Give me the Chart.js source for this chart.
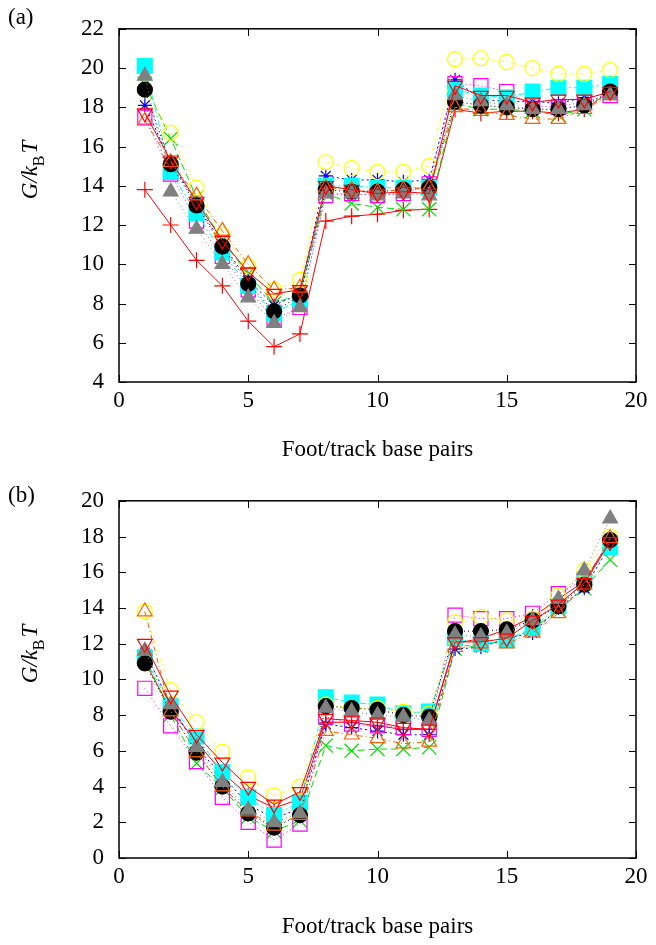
<!DOCTYPE html>
<html>
<head>
<meta charset="utf-8">
<script src="https://cdn.jsdelivr.net/npm/chart.js@4"></script>
<style>
  body { margin: 0; background: #fff; }
  canvas { position: absolute; left: 0; }
</style>
</head>
<body>
<canvas id="chartA" width="656" height="472" style="top:0"></canvas>
<canvas id="chartB" width="656" height="473" style="top:472px"></canvas>
<script>
const footPairs = [1, 2, 3, 4, 5, 6, 7, 8, 9, 10, 11, 12, 13, 14, 15, 16, 17, 18, 19];

// panel (a)
const aPlus      = [13.8, 12.0, 10.2, 8.9, 7.1, 5.8, 6.45, 12.2, 12.45, 12.55, 12.75, 12.8, 17.9, 17.7, 17.8, 17.8, 17.7, 17.9, 18.8];
const aCross     = [19.2, 16.4, 13.4, 11.2, 9.5, 8.0, 8.5, 13.6, 13.1, 12.9, 12.8, 12.8, 18.2, 17.9, 17.9, 17.8, 17.6, 17.9, 18.8];
const aStar      = [18.1, 15.2, 13.1, 11.0, 9.2, 7.9, 8.5, 14.5, 14.3, 14.3, 14.2, 14.3, 19.4, 18.4, 18.3, 18.3, 18.2, 18.5, 18.7];
const aOpenSq    = [17.5, 14.6, 12.2, 10.4, 8.7, 7.2, 7.8, 13.5, 13.6, 13.5, 13.6, 14.1, 19.2, 19.1, 18.8, 18.1, 18.0, 18.3, 18.6];
const aFillSq    = [20.1, 14.7, 12.6, 10.6, 8.9, 7.5, 8.2, 14.0, 14.0, 13.9, 13.9, 13.9, 18.9, 18.6, 18.5, 18.8, 19.0, 19.0, 19.2];
const aOpenCirc  = [18.9, 16.7, 13.9, 11.5, 9.9, 8.7, 9.2, 15.2, 14.9, 14.7, 14.7, 15.0, 20.45, 20.5, 20.3, 20.0, 19.7, 19.7, 19.9];
const aFillCirc  = [18.9, 15.1, 13.0, 10.9, 9.0, 7.6, 8.4, 13.8, 13.7, 13.7, 13.8, 13.9, 18.3, 18.1, 18.0, 17.9, 17.9, 18.1, 18.8];
const aOpenTri   = [17.3, 15.2, 13.5, 11.7, 10.0, 8.7, 8.8, 13.9, 13.8, 13.7, 13.8, 13.9, 18.0, 17.8, 17.6, 17.4, 17.4, 17.9, 18.6];
const aFillTri   = [19.6, 13.7, 11.8, 10.0, 8.3, 7.0, 7.8, 13.6, 13.6, 13.5, 13.6, 13.5, 18.6, 18.3, 18.1, 17.9, 17.9, 18.1, 18.6];
const aInvTri    = [17.7, 15.3, 13.2, 11.2, 9.6, 8.5, 8.7, 14.0, 13.8, 13.6, 13.7, 13.6, 19.1, 18.6, 18.6, 18.25, 18.4, 18.4, 18.8];

// panel (b)
const bPlus      = [11.0, 8.3, 6.5, 4.8, 3.5, 2.8, 3.3, 7.6, 7.6, 7.4, 7.2, 7.2, 12.0, 12.3, 12.8, 13.5, 14.5, 15.5, 17.8];
const bCross     = [11.3, 8.0, 5.3, 3.9, 2.3, 1.5, 2.1, 6.3, 6.0, 6.1, 6.1, 6.2, 11.7, 11.9, 12.2, 12.8, 13.9, 15.1, 16.7];
const bStar      = [11.5, 8.6, 6.2, 4.6, 3.0, 2.2, 2.8, 7.5, 7.3, 7.1, 6.9, 6.9, 11.7, 11.8, 12.3, 12.6, 14.0, 15.1, 17.5];
const bOpenSq    = [9.5, 7.4, 5.4, 3.4, 2.0, 1.0, 1.9, 7.9, 7.5, 7.4, 7.3, 7.2, 13.6, 13.4, 13.4, 13.7, 14.8, 15.6, 17.6];
const bFillSq    = [11.2, 8.5, 6.8, 4.8, 3.4, 2.4, 3.1, 9.0, 8.7, 8.6, 8.1, 8.2, 12.3, 12.0, 12.2, 12.9, 14.1, 15.5, 17.4];
const bOpenCirc  = [13.8, 9.4, 7.6, 5.95, 4.5, 3.5, 4.0, 8.6, 8.4, 8.4, 8.2, 8.1, 13.2, 13.5, 13.3, 13.4, 14.7, 16.1, 18.0];
const bFillCirc  = [10.9, 8.2, 5.9, 4.0, 2.5, 1.7, 2.4, 8.5, 8.4, 8.3, 8.0, 7.9, 12.7, 12.7, 12.8, 13.3, 14.1, 15.3, 17.8];
const bOpenTri   = [13.8, 8.2, 5.9, 4.0, 2.6, 1.8, 2.4, 7.1, 6.9, 6.7, 6.4, 6.5, 11.8, 12.0, 12.0, 12.6, 13.7, 15.3, 17.9];
const bFillTri   = [11.6, 8.6, 6.2, 4.25, 2.7, 2.0, 2.5, 8.4, 8.2, 8.0, 7.9, 7.7, 12.5, 12.4, 12.6, 13.3, 14.5, 16.1, 19.0];
const bInvTri    = [12.0, 9.1, 6.9, 5.35, 4.0, 3.0, 3.7, 7.8, 7.7, 7.6, 7.3, 7.2, 12.1, 12.1, 12.3, 13.3, 14.2, 15.4, 17.7];

const xTitle = "Foot/track base pairs";
const serif = "'Liberation Serif', 'DejaVu Serif', serif";

// gnuplot-like point types 1..10
const seriesStyles = [
  { color: "#ff0000", point: "cross", fill: false, radius: 8, dash: [] },
  { color: "#00dd00", point: "crossRot", fill: false, radius: 10, dash: [7, 4] },
  { color: "#0000ff", point: "star", fill: false, radius: 7, dash: [2, 3] },
  { color: "#ff00ff", point: "rect", fill: false, radius: 10, dash: [1, 3] },
  { color: "#00ffff", point: "rect", fill: true, radius: 10.5, dash: [6, 3, 2, 3] },
  { color: "#ffff00", point: "circle", fill: false, radius: 7.5, dash: [3, 3, 1, 3] },
  { color: "#000000", point: "circle", fill: true, radius: 7.5, dash: [1, 3] },
  { color: "#ff6000", point: "triangle", fill: false, radius: 8.5, dash: [5, 3, 1, 3] },
  { color: "#808080", point: "triangle", fill: true, radius: 8.5, dash: [1, 3] },
  { color: "#ff0000", point: "triangle", fill: false, radius: 8.5, dash: [], rotation: 180 },
];

function buildDatasets(seriesList) {
  return seriesList.map((values, i) => {
    const s = seriesStyles[i];
    return {
      data: values.map((v, j) => ({ x: footPairs[j], y: v })),
      borderColor: s.color,
      borderWidth: 1,
      borderDash: s.dash,
      pointStyle: s.point,
      pointRadius: s.radius,
      pointRotation: s.rotation || 0,
      pointBorderColor: s.color,
      pointBackgroundColor: s.fill ? s.color : "rgba(0,0,0,0)",
      pointBorderWidth: 1.2,
      tension: 0,
      order: seriesList.length - i,
    };
  });
}

// frame + inward ticks on all four sides, like gnuplot
const frameTicks = {
  id: "frameTicks",
  beforeDatasetsDraw(chart) {
    const { ctx, chartArea: a, scales } = chart;
    const len = 7;
    ctx.save();
    ctx.strokeStyle = "#000";
    ctx.lineWidth = 1;
    ctx.beginPath();
    scales.x.ticks.forEach((t) => {
      const px = Math.round(scales.x.getPixelForValue(t.value)) + 0.5;
      ctx.moveTo(px, a.bottom); ctx.lineTo(px, a.bottom - len);
      ctx.moveTo(px, a.top); ctx.lineTo(px, a.top + len);
    });
    scales.y.ticks.forEach((t) => {
      const py = Math.round(scales.y.getPixelForValue(t.value)) + 0.5;
      ctx.moveTo(a.left, py); ctx.lineTo(a.left + len, py);
      ctx.moveTo(a.right, py); ctx.lineTo(a.right - len, py);
    });
    ctx.stroke();
    ctx.lineWidth = 1.5;
    ctx.strokeRect(a.left, a.top, a.right - a.left, a.bottom - a.top);
    ctx.restore();
  },
};

// panel letter and the G/k_B T label
const panelText = {
  id: "panelText",
  afterDraw(chart, args, opts) {
    const ctx = chart.ctx;
    ctx.save();
    ctx.fillStyle = "#000";
    ctx.textBaseline = "middle";
    ctx.font = "23px " + serif;
    ctx.fillText(opts.letter, 8, opts.letterY);

    ctx.translate(37, opts.labelY);
    ctx.rotate(-Math.PI / 2);
    ctx.textBaseline = "alphabetic";
    const main = "italic 23px " + serif;
    const sub = "16px " + serif;
    ctx.font = main;
    const w1 = ctx.measureText("G/k").width;
    const w3 = ctx.measureText("T").width;
    ctx.font = sub;
    const w2 = ctx.measureText("B").width;
    let x0 = -(w1 + w2 + w3 + 2) / 2;
    ctx.font = main;
    ctx.fillText("G/k", x0, 0);
    x0 += w1;
    ctx.font = sub;
    ctx.fillText("B", x0, 7);
    x0 += w2 + 2;
    ctx.font = main;
    ctx.fillText("T", x0, 0);
    ctx.restore();
  },
};

function makeChart(canvasId, seriesList, yMin, yMax, padTop, xHeight, titlePad, letter, letterY, labelY) {
  new Chart(document.getElementById(canvasId), {
    type: "line",
    data: { datasets: buildDatasets(seriesList) },
    options: {
      responsive: false,
      animation: false,
      layout: { padding: { top: padTop, right: 20, left: 0, bottom: 0 } },
      plugins: {
        legend: { display: false },
        tooltip: { enabled: false },
        panelText: { letter: letter, letterY: letterY, labelY: labelY },
      },
      scales: {
        x: {
          type: "linear",
          min: 0,
          max: 20,
          ticks: { stepSize: 5, color: "#000", font: { family: serif, size: 23 }, padding: 5, maxRotation: 0 },
          grid: { display: false, drawTicks: false },
          border: { display: false },
          title: { display: true, text: xTitle, color: "#000", font: { family: serif, size: 23 }, padding: { top: 0, bottom: titlePad } },
          afterFit: (scale) => { scale.height = xHeight; },
        },
        y: {
          min: yMin,
          max: yMax,
          ticks: { stepSize: 2, color: "#000", font: { family: serif, size: 23 }, padding: 15 },
          grid: { display: false, drawTicks: false },
          border: { display: false },
          afterFit: (scale) => { scale.width = 119; },
        },
      },
    },
    plugins: [frameTicks, panelText],
  });
}

makeChart("chartA",
  [aPlus, aCross, aStar, aOpenSq, aFillSq, aOpenCirc, aFillCirc, aOpenTri, aFillTri, aInvTri],
  4, 22, 22, 90, 8, "(a)", 18, 170);
makeChart("chartB",
  [bPlus, bCross, bStar, bOpenSq, bFillSq, bOpenCirc, bFillCirc, bOpenTri, bFillTri, bInvTri],
  0, 20, 28, 87, 4, "(b)", 24, 182);
</script>
</body>
</html>
